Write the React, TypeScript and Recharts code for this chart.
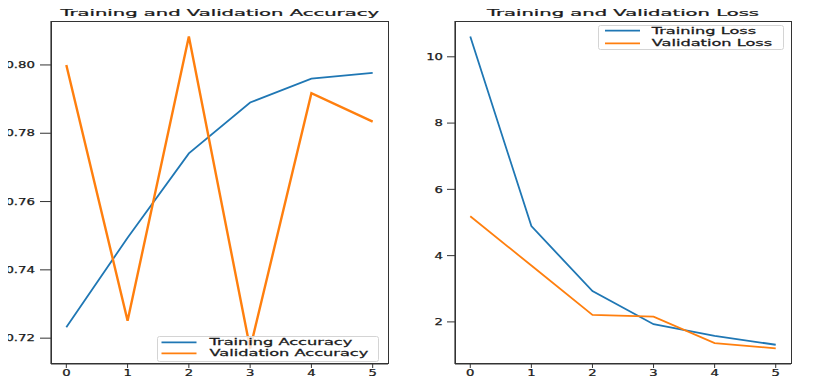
import { LineChart, Line, XAxis, YAxis, Legend } from "recharts";

const epochs = [0, 1, 2, 3, 4, 5];
const trainAcc = [0.7232, 0.7494, 0.7741, 0.789, 0.796, 0.7977];
const valAcc = [0.8, 0.7251, 0.8083, 0.717, 0.7917, 0.7834];
const trainLoss = [10.61, 4.89, 2.93, 1.93, 1.58, 1.31];
const valLoss = [5.19, 3.7, 2.21, 2.16, 1.36, 1.2];
const accTicks = [0.72, 0.74, 0.76, 0.78, 0.8];
const lossTicks = [2, 4, 6, 8, 10];

const BLUE = "#1f77b4";
const ORANGE = "#ff7f0e";
const INK = "#1a1a1a";
const FONT = "DejaVu Sans, sans-serif";

const accData = epochs.map((e, i) => ({ epoch: e, train: trainAcc[i], val: valAcc[i] }));
const lossData = epochs.map((e, i) => ({ epoch: e, train: trainLoss[i], val: valLoss[i] }));

// matplotlib style 5% padding around data
function padded(values: number[]): [number, number] {
  const lo = Math.min(...values);
  const hi = Math.max(...values);
  const p = (hi - lo) * 0.05;
  return [lo - p, hi + p];
}

// source image is blurry, a hairline stroke thickens the glyphs a bit
const textLook = { fontFamily: FONT, fill: INK, stroke: INK, strokeWidth: 0.25 };

// the source picture is stretched sideways, so text is widened on x
const XTick = ({ x, y, payload }: any) => (
  <text transform={`translate(${x},${y}) scale(1.5,1)`} textAnchor="middle" dy="0.8em" fontSize={8.8} {...textLook}>
    {payload.value}
  </text>
);

const makeYTick = (digits: number) => ({ x, y, payload }: any) => {
  const label = Number(payload.value).toFixed(digits);
  const width = label.replace(".", "").length * 8.4 + (label.includes(".") ? 4.4 : 0);
  return (
    <text
      x={Number(x) - width}
      y={y}
      dy="0.36em"
      fontSize={8.8}
      textLength={width}
      lengthAdjust="spacingAndGlyphs"
      {...textLook}
    >
      {label}
    </text>
  );
};

const makeLegend = (w: number, h: number, x0: number, x1: number, tx: number, rows: number[]) =>
  ({ payload }: any) => (
    <svg width={w} height={h} style={{ display: "block" }}>
      <rect x={0.5} y={0.5} width={w - 1} height={h - 1} rx={2} fill="rgba(255,255,255,0.8)" stroke="#d4d4d4" />
      {(payload || []).map((p: any, i: number) => (
        <g key={p.value}>
          <line x1={x0} x2={x1} y1={rows[i]} y2={rows[i]} stroke={p.color} strokeWidth={1.8} />
          <text transform={`translate(${tx},${rows[i]}) scale(1.84,1)`} dy="0.36em" fontSize={8.8} {...textLook}>
            {p.value}
          </text>
        </g>
      ))}
    </svg>
  );

const Title = ({ cx, text }: { cx: number; text: string }) => (
  <svg width={816} height={22} style={{ position: "absolute", left: 0, top: 0 }}>
    <text transform={`translate(${cx},16) scale(2.06,1)`} textAnchor="middle" fontSize={9.5} {...textLook}>
      {text}
    </text>
  </svg>
);

// matplotlib draws all four spines
const Frame = ({ left, width }: { left: number; width: number }) => (
  <div
    style={{
      position: "absolute",
      left,
      top: 20.5,
      width,
      height: 343.5,
      border: "1.2px solid #333",
      boxSizing: "border-box",
      pointerEvents: "none",
    }}
  />
);

const axisStroke = { stroke: "#333", strokeWidth: 1.2 };

export default function App() {
  return (
    <div style={{ position: "relative", width: 816, height: 386, margin: -8, background: "#fff" }}>
      <div style={{ position: "absolute", left: 0, top: 0 }}>
        <LineChart width={400} height={386} data={accData} margin={{ top: 21, right: 12, bottom: 0, left: 0 }}>
          <XAxis
            dataKey="epoch"
            type="number"
            domain={[-0.25, 5.25]}
            ticks={epochs}
            allowDataOverflow
            height={22}
            tickSize={4}
            tickMargin={1}
            tick={<XTick />}
            axisLine={axisStroke}
            tickLine={{ stroke: "#333" }}
          />
          <YAxis
            type="number"
            domain={padded([...trainAcc, ...valAcc])}
            ticks={accTicks}
            allowDataOverflow
            width={51}
            tickSize={11}
            tickMargin={5}
            tick={makeYTick(2)}
            axisLine={axisStroke}
            tickLine={{ stroke: "#333" }}
          />
          <Line dataKey="train" name="Training Accuracy" stroke={BLUE} strokeWidth={1.8} dot={false} isAnimationActive={false} />
          <Line dataKey="val" name="Validation Accuracy" stroke={ORANGE} strokeWidth={2.4} dot={false} isAnimationActive={false} />
          <Legend
            layout="vertical"
            align="center"
            verticalAlign="middle"
            wrapperStyle={{ left: 157, top: 336, width: 222, height: 26 }}
            content={makeLegend(222, 26, 4.5, 39.5, 52.5, [6.3, 17.3])}
          />
        </LineChart>
      </div>
      <div style={{ position: "absolute", left: 400, top: 0 }}>
        <LineChart width={416} height={386} data={lossData} margin={{ top: 21, right: 25, bottom: 0, left: 0 }}>
          <XAxis
            dataKey="epoch"
            type="number"
            domain={[-0.25, 5.25]}
            ticks={epochs}
            allowDataOverflow
            height={22}
            tickSize={4}
            tickMargin={1}
            tick={<XTick />}
            axisLine={axisStroke}
            tickLine={{ stroke: "#333" }}
          />
          <YAxis
            type="number"
            domain={padded([...trainLoss, ...valLoss])}
            ticks={lossTicks}
            allowDataOverflow
            width={55}
            tickSize={8}
            tickMargin={4}
            tick={makeYTick(0)}
            axisLine={axisStroke}
            tickLine={{ stroke: "#333" }}
          />
          <Line dataKey="train" name="Training Loss" stroke={BLUE} strokeWidth={1.8} dot={false} isAnimationActive={false} />
          <Line dataKey="val" name="Validation Loss" stroke={ORANGE} strokeWidth={1.8} dot={false} isAnimationActive={false} />
          <Legend
            layout="vertical"
            align="center"
            verticalAlign="middle"
            wrapperStyle={{ left: 198, top: 25, width: 186, height: 25 }}
            content={makeLegend(186, 25, 7, 42, 53.7, [5.7, 18.3])}
          />
        </LineChart>
      </div>
      <Frame left={50.5} width={338} />
      <Frame left={454.5} width={337} />
      <Title cx={219.7} text="Training and Validation Accuracy" />
      <Title cx={623} text="Training and Validation Loss" />
    </div>
  );
}
